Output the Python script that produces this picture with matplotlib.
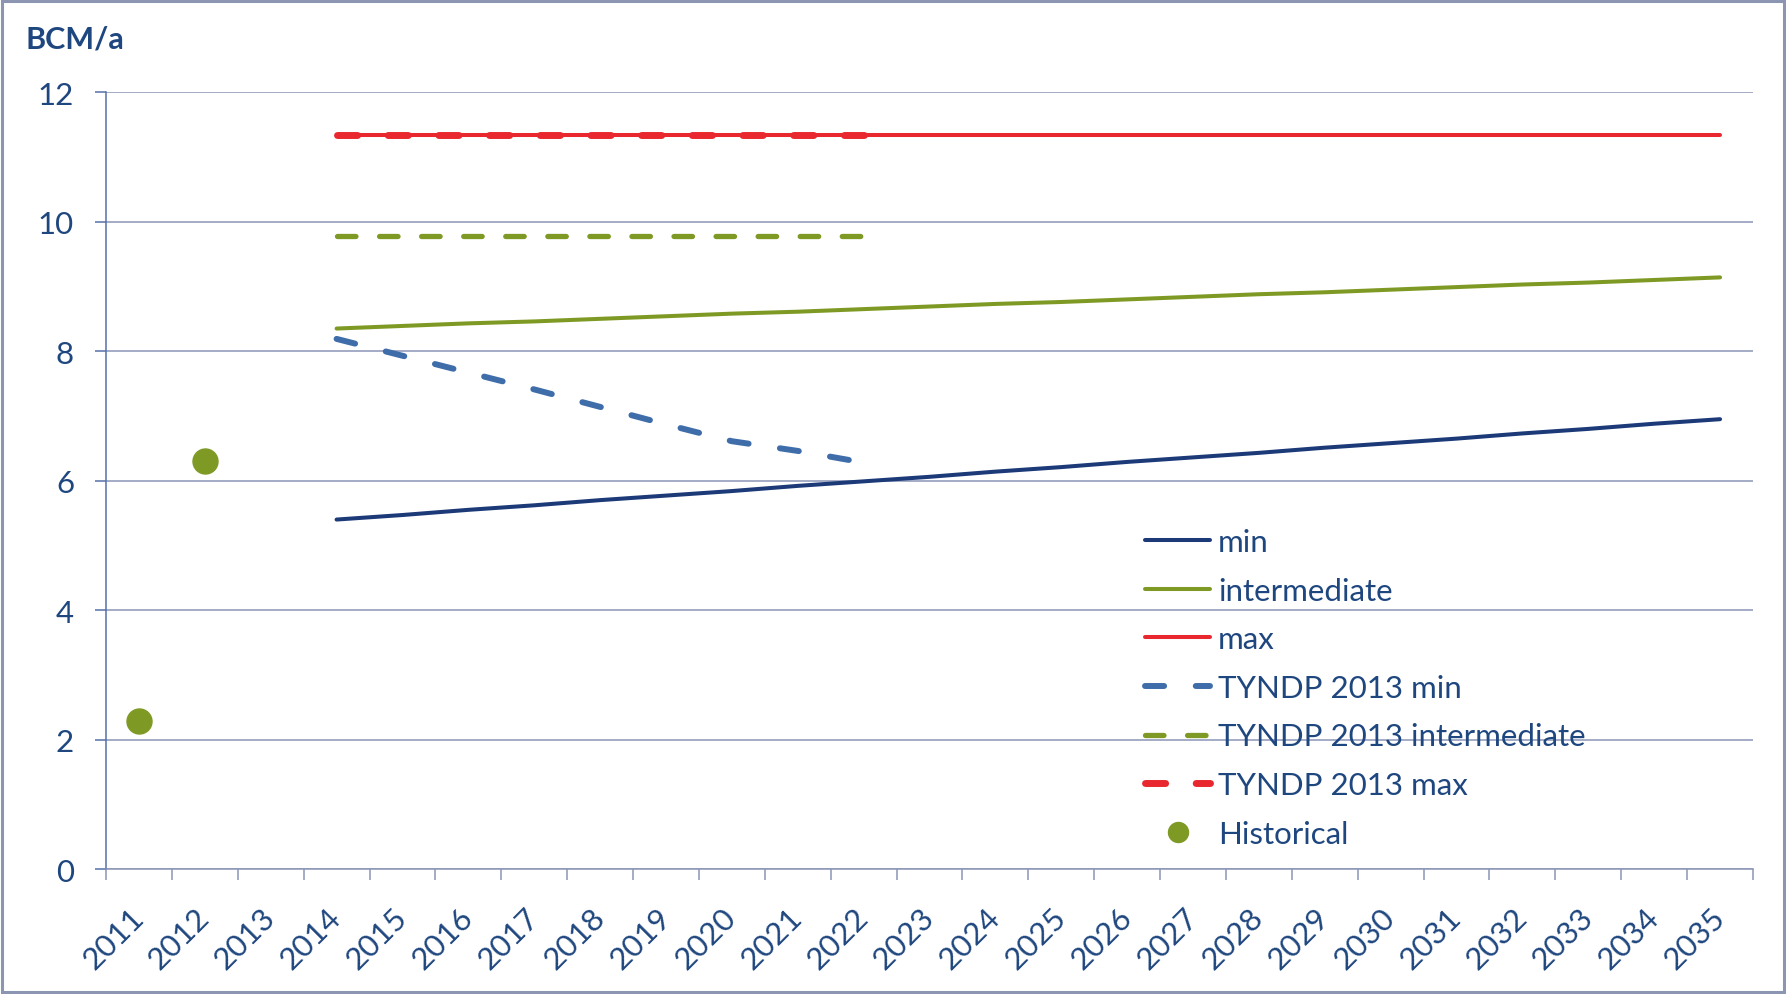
import matplotlib
matplotlib.use("Agg")
import matplotlib.pyplot as plt
from matplotlib.patches import Rectangle

years = list(range(2011, 2036))
year_labels = [str(y) for y in years]

future_years = list(range(2014, 2036))
min_vals = [5.40, 5.47, 5.55, 5.62, 5.70, 5.77, 5.84, 5.92, 5.99, 6.06, 6.14,
            6.21, 6.29, 6.36, 6.43, 6.51, 6.58, 6.65, 6.73, 6.80, 6.88, 6.95]
intermediate_vals = [8.35, 8.39, 8.43, 8.46, 8.50, 8.54, 8.58, 8.61, 8.65, 8.69, 8.73,
                     8.76, 8.80, 8.84, 8.88, 8.91, 8.95, 8.99, 9.03, 9.06, 9.10, 9.14]
max_vals = [11.34] * 22

tyndp_years = list(range(2014, 2023))
tyndp_min = [8.19, 7.93, 7.67, 7.41, 7.14, 6.87, 6.61, 6.46, 6.28]
tyndp_intermediate = [9.78, 9.78, 9.78, 9.78, 9.78, 9.78, 9.78, 9.78, 9.78]
tyndp_max = [11.34, 11.34, 11.34, 11.34, 11.34, 11.34, 11.34, 11.34, 11.34]

hist_years = [2011, 2012]
hist_vals = [2.29, 6.30]

y_ticks = [0, 2, 4, 6, 8, 10, 12]

plt.rcParams['font.family'] = ['Lato', 'DejaVu Sans']
TXT = '#1F477F'
GRID = '#8C95B6'
C_MIN = '#1C3A78'
C_INT = '#7F9A24'
C_MAX = '#E8282E'
C_TMIN = '#3F6DAA'
FS = 22.5

W, H = 1786, 995
fig = plt.figure(figsize=(W / 100, H / 100), dpi=100)
ax = fig.add_axes([106 / W, 1 - 870.2 / H, (1753 - 106) / W, (870.2 - 93.2) / H])

idx = {y: i for i, y in enumerate(years)}
fx = [idx[y] for y in future_years]
tx = [idx[y] for y in tyndp_years]
hx = [idx[y] for y in hist_years]

ax.plot(fx, min_vals, color=C_MIN, lw=2.9, solid_capstyle='round', label='min', zorder=3)
ax.plot(fx, intermediate_vals, color=C_INT, lw=2.9, solid_capstyle='round', label='intermediate', zorder=3)
ax.plot(fx, max_vals, color=C_MAX, lw=2.9, solid_capstyle='round', label='max', zorder=3)
l1, = ax.plot(tx, tyndp_min, color=C_TMIN, lw=4.3, dash_capstyle='round', label='TYNDP 2013 min', zorder=4)
l1.set_dashes((3.2, 5.3))
l2, = ax.plot(tx, tyndp_intermediate, color=C_INT, lw=3.8, dash_capstyle='round', label='TYNDP 2013 intermediate', zorder=4)
l2.set_dashes((3.5, 4.47))
l3, = ax.plot(tx, tyndp_max, color=C_MAX, lw=5.0, dash_capstyle='round', label='TYNDP 2013 max', zorder=4)
l3.set_dashes((2.9, 4.4))
ax.plot(hx, hist_vals, linestyle='none', marker='o', markersize=18, color=C_INT, label='Historical', zorder=5)

ax.set_xlim(-0.5, len(years) - 0.5)
ax.set_ylim(0, 12)

ax.set_yticks(y_ticks)
ax.set_yticklabels([str(v) for v in y_ticks])
ax.yaxis.grid(True, color=GRID, lw=1.1)
ax.set_axisbelow(True)

ax.set_xticks([i - 0.5 for i in range(len(years) + 1)])
ax.set_xticklabels([])
ax.set_xticks(list(range(len(years))), minor=True)
ax.set_xticklabels(year_labels, minor=True, rotation=45, ha='right', va='center',
                   rotation_mode='anchor')

ax.tick_params(axis='x', which='major', length=8, width=1.1, color=GRID, direction='out')
ax.tick_params(axis='x', which='minor', length=0, pad=31, labelsize=FS, labelcolor=TXT)
ax.tick_params(axis='y', length=8, width=1.1, color='#5571A8', direction='out', pad=15,
               labelsize=FS, labelcolor=TXT)

for s in ['top', 'right']:
    ax.spines[s].set_visible(False)
ax.spines['left'].set_color('#5571A8')
ax.spines['left'].set_linewidth(1.1)
ax.spines['bottom'].set_color(GRID)
ax.spines['bottom'].set_linewidth(1.1)

fig.text(25 / W, 1 - 40 / H, 'BCM/a', color=TXT, fontsize=22, fontweight='bold',
         ha='left', va='center')

leg = ax.legend(loc='upper left', bbox_to_anchor=(1145 / W, 1 - 529 / H),
                bbox_transform=fig.transFigure, frameon=False, fontsize=FS,
                handlelength=2.08, handletextpad=0.26, labelspacing=0.66,
                borderpad=0, borderaxespad=0, numpoints=1, markerscale=0.8)
for t in leg.get_texts():
    t.set_color(TXT)

fig.patches.append(Rectangle((2 / W, 2 / H), (W - 4) / W, (H - 4) / H,
                             transform=fig.transFigure, fill=False,
                             edgecolor='#8C96B2', lw=2.2))

fig.savefig('out.png', dpi=100)
